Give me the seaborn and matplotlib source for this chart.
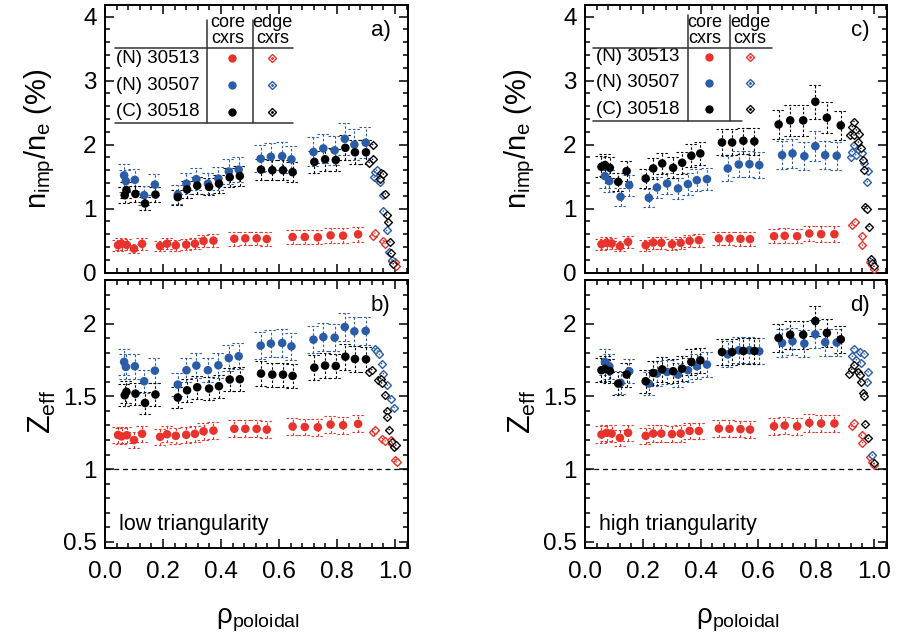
import numpy as np
import matplotlib
matplotlib.use("Agg")
import matplotlib.pyplot as plt
import seaborn as sns
from matplotlib.ticker import MultipleLocator, FormatStrFormatter, FuncFormatter

# ---------------- data ----------------
# low triangularity (panels a, b)
lo_red_rho = [0.045, 0.057, 0.075, 0.100, 0.128, 0.190, 0.214, 0.244, 0.280, 0.310, 0.340,
              0.374, 0.446, 0.484, 0.523, 0.558, 0.647, 0.689, 0.734, 0.778, 0.821, 0.873]
a_red = [0.43, 0.45, 0.435, 0.375, 0.45, 0.417, 0.453, 0.427, 0.438, 0.453, 0.495,
         0.50, 0.53, 0.536, 0.536, 0.526, 0.557, 0.557, 0.552, 0.583, 0.578, 0.599]
b_red = [1.235, 1.225, 1.233, 1.20, 1.243, 1.222, 1.24, 1.229, 1.236, 1.243, 1.26,
         1.265, 1.277, 1.277, 1.277, 1.272, 1.293, 1.29, 1.288, 1.307, 1.302, 1.311]

lo_blue_rho = [0.066, 0.072, 0.103, 0.135, 0.172, 0.251, 0.281, 0.315, 0.355, 0.391, 0.427,
               0.461, 0.537, 0.572, 0.611, 0.643, 0.719, 0.753, 0.792, 0.827, 0.860, 0.899]
a_blue = [1.52, 1.43, 1.45, 1.21, 1.375, 1.22, 1.39, 1.46, 1.39, 1.47, 1.58,
          1.61, 1.78, 1.81, 1.82, 1.77, 1.885, 1.94, 1.91, 2.09, 2.0, 2.03]
b_blue = [1.737, 1.703, 1.707, 1.604, 1.677, 1.581, 1.68, 1.712, 1.68, 1.714, 1.764,
          1.776, 1.849, 1.863, 1.867, 1.844, 1.89, 1.908, 1.904, 1.977, 1.947, 1.95]

lo_black_rho = [0.068, 0.074, 0.105, 0.138, 0.174, 0.251, 0.283, 0.318, 0.359, 0.393, 0.430,
                0.465, 0.538, 0.577, 0.614, 0.647, 0.722, 0.759, 0.796, 0.829, 0.862, 0.900]
a_black = [1.21, 1.29, 1.23, 1.08, 1.22, 1.18, 1.30, 1.36, 1.34, 1.39, 1.49,
           1.51, 1.61, 1.60, 1.60, 1.57, 1.73, 1.77, 1.76, 1.95, 1.88, 1.88]
b_black = [1.508, 1.531, 1.519, 1.455, 1.513, 1.492, 1.542, 1.563, 1.554, 1.57, 1.616,
           1.618, 1.657, 1.65, 1.65, 1.641, 1.698, 1.712, 1.709, 1.773, 1.757, 1.755]

# edge cxrs, panel a
a_red_edge_rho = [0.925, 0.931, 0.960, 0.966, 0.989, 1.000, 1.003]
a_red_edge = [0.58, 0.62, 0.50, 0.45, 0.19, 0.17, 0.11]
a_blue_edge_rho = [0.928, 0.931, 0.937, 0.943, 0.948, 0.960, 0.960, 0.971, 0.980, 0.990]
a_blue_edge = [1.49, 1.57, 1.60, 1.45, 1.42, 1.21, 0.96, 0.66, 0.32, 0.20]
a_black_edge_rho = [0.911, 0.923, 0.923, 0.948, 0.951, 0.960, 0.967, 0.971, 0.975, 0.983, 0.986, 0.994]
a_black_edge = [1.72, 2.00, 1.77, 1.47, 1.56, 1.54, 1.23, 0.90, 0.79, 0.48, 0.30, 0.14]

# edge cxrs, panel b
b_red_edge_rho = [0.925, 0.931, 0.957, 0.966, 0.985, 0.991, 1.000, 1.006]
b_red_edge = [1.256, 1.272, 1.21, 1.194, 1.199, 1.176, 1.066, 1.05]
b_blue_edge_rho = [0.931, 0.939, 0.946, 0.954, 0.960, 0.974, 0.985, 0.997]
b_blue_edge = [1.828, 1.812, 1.789, 1.725, 1.657, 1.577, 1.485, 1.423]
b_black_edge_rho = [0.911, 0.920, 0.943, 0.951, 0.954, 0.966, 0.971, 0.974, 0.980, 0.989, 0.997, 1.003]
b_black_edge = [1.668, 1.684, 1.611, 1.622, 1.592, 1.508, 1.40, 1.355, 1.272, 1.187, 1.153, 1.165]

# high triangularity (panels c, d)
hi_red_rho = [0.057, 0.075, 0.092, 0.121, 0.149, 0.210, 0.236, 0.264, 0.301, 0.331, 0.362,
              0.394, 0.463, 0.500, 0.538, 0.571, 0.654, 0.691, 0.734, 0.776, 0.817, 0.863]
c_red = [0.445, 0.466, 0.456, 0.414, 0.482, 0.43, 0.471, 0.466, 0.445, 0.466, 0.497,
         0.508, 0.534, 0.534, 0.529, 0.524, 0.57, 0.576, 0.57, 0.612, 0.602, 0.602]
d_red = [1.238, 1.25, 1.245, 1.215, 1.25, 1.229, 1.245, 1.245, 1.241, 1.245, 1.263,
         1.263, 1.279, 1.277, 1.275, 1.272, 1.295, 1.30, 1.295, 1.318, 1.314, 1.314]

hi_blue_rho = [0.069, 0.084, 0.123, 0.153, 0.221, 0.249, 0.284, 0.322, 0.356, 0.387, 0.422,
               0.494, 0.532, 0.569, 0.603, 0.682, 0.718, 0.759, 0.797, 0.831, 0.871]
c_blue = [1.508, 1.43, 1.185, 1.367, 1.169, 1.331, 1.393, 1.315, 1.383, 1.445, 1.461,
          1.628, 1.69, 1.695, 1.68, 1.836, 1.862, 1.82, 1.977, 1.836, 1.826]
d_blue = [1.737, 1.707, 1.593, 1.673, 1.588, 1.657, 1.668, 1.65, 1.68, 1.707, 1.719,
          1.789, 1.817, 1.817, 1.81, 1.867, 1.879, 1.863, 1.927, 1.872, 1.87]

hi_black_rho = [0.057, 0.069, 0.086, 0.115, 0.144, 0.210, 0.236, 0.267, 0.305, 0.336, 0.368,
                0.399, 0.474, 0.509, 0.548, 0.586, 0.670, 0.710, 0.755, 0.797, 0.837, 0.885]
c_black = [1.654, 1.68, 1.638, 1.419, 1.586, 1.471, 1.628, 1.706, 1.638, 1.716, 1.826,
           1.862, 2.034, 2.034, 2.06, 2.05, 2.315, 2.378, 2.378, 2.67, 2.42, 2.30]
d_black = [1.68, 1.69, 1.675, 1.588, 1.65, 1.604, 1.661, 1.686, 1.673, 1.691, 1.737,
           1.748, 1.805, 1.805, 1.812, 1.812, 1.902, 1.924, 1.924, 2.018, 1.936, 1.892]

# edge cxrs, panel c
c_red_edge_rho = [0.923, 0.934, 0.957, 0.960, 0.985, 0.994, 1.000]
c_red_edge = [0.74, 0.79, 0.57, 0.43, 0.17, 0.12, 0.05]
c_blue_edge_rho = [0.920, 0.925, 0.931, 0.937, 0.948, 0.957, 0.966, 0.977, 0.980, 0.992]
c_blue_edge = [1.81, 1.89, 1.99, 1.84, 1.91, 1.87, 1.72, 1.42, 1.59, 0.18]
c_black_edge_rho = [0.916, 0.925, 0.931, 0.931, 0.939, 0.946, 0.948, 0.954, 0.962, 0.966,
                    0.969, 0.977, 0.983, 0.989, 0.994, 1.000]
c_black_edge = [2.15, 2.28, 2.36, 2.15, 2.23, 2.04, 2.17, 1.94, 1.76, 1.61,
                1.03, 1.00, 0.72, 0.22, 0.15, 0.10]

# edge cxrs, panel d
d_red_edge_rho = [0.923, 0.931, 0.957, 0.960, 0.985, 0.994, 1.000]
d_red_edge = [1.295, 1.314, 1.233, 1.181, 1.084, 1.05, 1.027]
d_blue_edge_rho = [0.925, 0.931, 0.939, 0.951, 0.954, 0.966, 0.977, 0.980, 0.994]
d_blue_edge = [1.776, 1.828, 1.752, 1.805, 1.73, 1.792, 1.599, 1.668, 1.096]
d_black_edge_rho = [0.914, 0.923, 0.931, 0.943, 0.951, 0.954, 0.962, 0.966, 0.969, 0.980, 1.000]
d_black_edge = [1.657, 1.687, 1.714, 1.668, 1.648, 1.599, 1.52, 1.50, 1.307, 1.211, 1.039]

# relative error bars of core cxrs
rel_err_nimp = {"red": 0.20, "blue": 0.12, "black": 0.10}
rel_err_zeff = {"red": 0.045, "blue": 0.05, "black": 0.05}

shots = ["(N) 30513", "(N) 30507", "(C) 30518"]
panel_tags = ["a)", "b)", "c)", "d)"]
scenario = ["low triangularity", "high triangularity"]

# ---------------- style ----------------
RED = "#e8332c"
BLUE = "#2a5ca8"
BLACK = "#000000"
COLORS = {"red": RED, "blue": BLUE, "black": BLACK}

sns.set_style("ticks")
plt.rcParams["font.family"] = ["Liberation Sans", "DejaVu Sans"]
plt.rcParams["mathtext.default"] = "regular"
plt.rcParams["axes.linewidth"] = 1.4
for key in ("text.color", "axes.labelcolor", "xtick.color", "ytick.color", "axes.edgecolor"):
    plt.rcParams[key] = "black"

fig = plt.figure(figsize=(8.97, 6.39), dpi=100)
W, H = 897.0, 639.0
axA = fig.add_axes([105 / W, 1 - 272.7 / H, 303 / W, 267.7 / H])
axB = fig.add_axes([105 / W, 1 - 548 / H, 303 / W, 268 / H])
axC = fig.add_axes([585 / W, 1 - 272.7 / H, 302 / W, 267.7 / H])
axD = fig.add_axes([585 / W, 1 - 548 / H, 302 / W, 268 / H])

DASH = (0, (2.2, 1.8))
CAPW = 0.022


def draw_core(ax, rho, val, rel, cname):
    color = COLORS[cname]
    rho = np.asarray(rho)
    val = np.asarray(val)
    err = rel * val
    eb = ax.errorbar(rho, val, yerr=err, fmt="none", ecolor=color, elinewidth=0.8,
                     capsize=0, zorder=2)
    for lc in eb[2]:
        lc.set_linestyle(DASH)
    ax.hlines(val + err, rho - CAPW, rho + CAPW, colors=color, linestyles=DASH, lw=0.8, zorder=2)
    ax.hlines(val - err, rho - CAPW, rho + CAPW, colors=color, linestyles=DASH, lw=0.8, zorder=2)
    sns.scatterplot(x=rho, y=val, ax=ax, color=color, s=38, marker="o",
                    edgecolor="none", linewidth=0, zorder=3, legend=False)


def draw_edge(ax, rho, val, cname):
    color = COLORS[cname]
    sns.scatterplot(x=rho, y=val, ax=ax, marker="D", s=16, color="white",
                    edgecolor=color, linewidth=1.0, zorder=4, legend=False)
    sns.scatterplot(x=rho, y=val, ax=ax, marker="o", s=1.2, color=color,
                    edgecolor="none", linewidth=0, zorder=5, legend=False)


# panel a
draw_core(axA, lo_red_rho, a_red, rel_err_nimp["red"], "red")
draw_core(axA, lo_blue_rho, a_blue, rel_err_nimp["blue"], "blue")
draw_core(axA, lo_black_rho, a_black, rel_err_nimp["black"], "black")
draw_edge(axA, a_red_edge_rho, a_red_edge, "red")
draw_edge(axA, a_blue_edge_rho, a_blue_edge, "blue")
draw_edge(axA, a_black_edge_rho, a_black_edge, "black")

# panel b
draw_core(axB, lo_red_rho, b_red, rel_err_zeff["red"], "red")
draw_core(axB, lo_blue_rho, b_blue, rel_err_zeff["blue"], "blue")
draw_core(axB, lo_black_rho, b_black, rel_err_zeff["black"], "black")
draw_edge(axB, b_red_edge_rho, b_red_edge, "red")
draw_edge(axB, b_blue_edge_rho, b_blue_edge, "blue")
draw_edge(axB, b_black_edge_rho, b_black_edge, "black")

# panel c
draw_core(axC, hi_red_rho, c_red, rel_err_nimp["red"], "red")
draw_core(axC, hi_blue_rho, c_blue, rel_err_nimp["blue"], "blue")
draw_core(axC, hi_black_rho, c_black, rel_err_nimp["black"], "black")
draw_edge(axC, c_red_edge_rho, c_red_edge, "red")
draw_edge(axC, c_blue_edge_rho, c_blue_edge, "blue")
draw_edge(axC, c_black_edge_rho, c_black_edge, "black")

# panel d
draw_core(axD, hi_red_rho, d_red, rel_err_zeff["red"], "red")
draw_core(axD, hi_blue_rho, d_blue, rel_err_zeff["blue"], "blue")
draw_core(axD, hi_black_rho, d_black, rel_err_zeff["black"], "black")
draw_edge(axD, d_red_edge_rho, d_red_edge, "red")
draw_edge(axD, d_blue_edge_rho, d_blue_edge, "blue")
draw_edge(axD, d_black_edge_rho, d_black_edge, "black")

# ---------------- axes formatting ----------------
for ax in (axA, axB, axC, axD):
    ax.set_xlim(0, 1.045)
    ax.xaxis.set_major_locator(MultipleLocator(0.2))
    ax.xaxis.set_minor_locator(MultipleLocator(0.04))
    ax.tick_params(which="both", direction="in", top=True, right=True,
                   labelsize=17.5, width=1.1, pad=6, colors="black")
    ax.tick_params(which="major", length=6.5)
    ax.tick_params(which="minor", length=3.5)
    for s in ax.spines.values():
        s.set_linewidth(1.4)
        s.set_color("black")
    ax.set_xlabel("")
    ax.set_ylabel("")

for ax in (axA, axC):
    ax.set_ylim(0, 4.18)
    ax.yaxis.set_major_locator(MultipleLocator(1))
    ax.yaxis.set_minor_locator(MultipleLocator(0.2))
    ax.yaxis.set_major_formatter(FormatStrFormatter("%d"))
    ax.tick_params(labelbottom=False)

for ax in (axB, axD):
    ax.set_ylim(0.458, 2.30)
    ax.yaxis.set_major_locator(MultipleLocator(0.5))
    ax.yaxis.set_minor_locator(MultipleLocator(0.1))
    ax.yaxis.set_major_formatter(FuncFormatter(lambda v, p: "%g" % v))
    ax.xaxis.set_major_formatter(FormatStrFormatter("%.1f"))
    ax.axhline(1.0, color="black", lw=0.9, ls=(0, (4, 3)), zorder=1)
    ax.tick_params(axis="x", pad=9)

# panel tags
for ax, tag in zip((axA, axB, axC, axD), panel_tags):
    ax.text(0.91, 0.905, tag, transform=ax.transAxes, fontsize=16,
            ha="center", va="center")

axB.text(0.045, 0.088, scenario[0], transform=axB.transAxes, fontsize=15.5,
         ha="left", va="center")
axD.text(0.045, 0.088, scenario[1], transform=axD.transAxes, fontsize=15.5,
         ha="left", va="center")


# legend tables
def legend_table(ax, xl, xr_top, xr_bot, ytop_line, ybot_line, vx1, vx2, vtop,
                 xlab, ycore, xcore, xedge, rows_y):
    tr = ax.transAxes
    ax.plot([xl, xr_top], [ytop_line, ytop_line], color="#333333", lw=1.1,
            transform=tr, clip_on=False, zorder=6)
    ax.plot([xl, xr_bot], [ybot_line, ybot_line], color="#333333", lw=1.1,
            transform=tr, clip_on=False, zorder=6)
    for vx in (vx1, vx2):
        ax.plot([vx, vx], [ybot_line, vtop], color="#333333", lw=1.1,
                transform=tr, clip_on=False, zorder=6)
    ax.text(xcore - 0.015, ycore, "core\ncxrs", transform=tr, fontsize=13,
            ha="center", va="center", linespacing=0.95)
    ax.text(xedge, ycore, "edge\ncxrs", transform=tr, fontsize=13,
            ha="center", va="center", linespacing=0.95)
    for lab, yy, cname in zip(shots, rows_y, ["red", "blue", "black"]):
        ax.text(xlab, yy, lab, transform=tr, fontsize=13.5, ha="left", va="center")
        ax.plot([xcore], [yy], marker="o", ms=6, color=COLORS[cname], mec="none",
                transform=tr, zorder=6)
        ax.plot([xedge], [yy], marker="D", ms=4.2, mfc="white", mec=COLORS[cname],
                mew=1.0, transform=tr, zorder=6)
        ax.plot([xedge], [yy], marker="o", ms=1.0, color=COLORS[cname],
                transform=tr, zorder=7)


legend_table(axA, 0.033, 0.62, 0.62, 0.8405, 0.559, 0.3356, 0.4875, 0.944,
             0.035, 0.905, 0.42, 0.552, [0.801, 0.701, 0.601])
legend_table(axC, 0.027, 0.619, 0.52, 0.8405, 0.568, 0.34, 0.48, 0.963,
             0.036, 0.905, 0.41, 0.546, [0.807, 0.71, 0.611])

# axis labels
fig.text(40 / W, 1 - 139 / H, r"n$_{imp}$/n$_{e}$ (%)", rotation=90,
         ha="center", va="center", fontsize=21)
fig.text(520 / W, 1 - 139 / H, r"n$_{imp}$/n$_{e}$ (%)", rotation=90,
         ha="center", va="center", fontsize=21)
fig.text(42 / W, 1 - 412 / H, r"Z$_{eff}$", rotation=90,
         ha="center", va="center", fontsize=22)
fig.text(522 / W, 1 - 412 / H, r"Z$_{eff}$", rotation=90,
         ha="center", va="center", fontsize=22)
fig.text(258 / W, 1 - 620 / H, r"ρ$_{poloidal}$", ha="center", va="center", fontsize=20)
fig.text(738 / W, 1 - 620 / H, r"ρ$_{poloidal}$", ha="center", va="center", fontsize=20)

fig.savefig("out.png", dpi=100)
